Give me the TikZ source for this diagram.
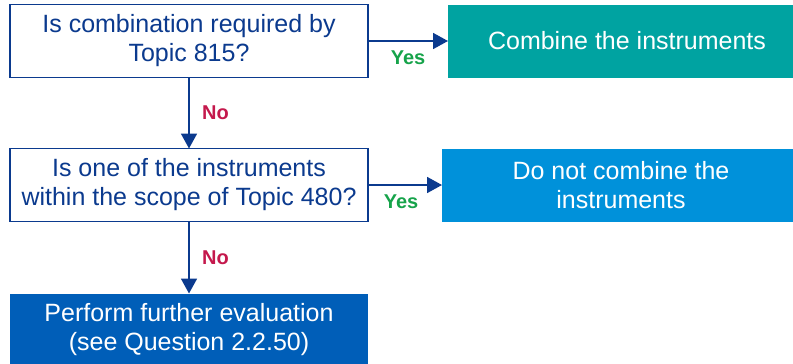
\documentclass[tikz,border=0pt]{standalone}
\usepackage{fontspec}
\setmainfont{Liberation Sans}
\usetikzlibrary{arrows.meta,positioning}
\definecolor{navyblue}{HTML}{0B3A8E}
\definecolor{tealbox}{HTML}{00A3A1}
\definecolor{lightbox}{HTML}{0091DA}
\definecolor{midbox}{HTML}{005EB8}
\definecolor{yesgreen}{HTML}{16A34A}
\definecolor{nored}{HTML}{C4184C}

\begin{document}
\begin{tikzpicture}[
    x=1pt, y=1pt,
    question/.style={rectangle, draw=navyblue, line width=1.8pt, fill=white, minimum width=358pt, minimum height=73pt, inner sep=0pt, outer sep=0pt, align=center, text=navyblue, font=\fontsize{25}{29}\selectfont},
    result/.style={rectangle, minimum width=358pt, minimum height=73pt, inner sep=0pt, outer sep=0pt, align=center, text=white, font=\fontsize{25}{29}\selectfont},
    yeslabel/.style={font=\fontsize{20}{23}\selectfont\bfseries, text=yesgreen},
    nolabel/.style={font=\fontsize{20}{23}\selectfont\bfseries, text=nored},
    arrow/.style={-{Triangle[length=15pt,width=16pt]}, line width=1.8pt, draw=navyblue}
]
\useasboundingbox (0,0) rectangle (793,-364);
\node[question] (q1) at (189,-41) {Is combination required by\\Topic 815?};
\node[result, fill=tealbox, right=80pt of q1] (combine) {Combine the instruments};
\node[question, below=71pt of q1] (q2) {Is one of the instruments\\within the scope of Topic 480?};
\node[result, fill=lightbox, right=74pt of q2] (nocombine) {Do not combine the\\instruments};
\node[result, fill=midbox, below=72pt of q2] (further) {Perform further evaluation\\(see Question 2.2.50)};

\draw[arrow] (q1) -- node[yeslabel, below=6pt] {Yes} (combine);
\draw[arrow] (q1) -- node[nolabel, right=9pt] {No} (q2);
\draw[arrow] (q2) -- node[yeslabel, below=6pt, xshift=-4pt] {Yes} (nocombine);
\draw[arrow] (q2) -- node[nolabel, right=9pt] {No} (further);
\end{tikzpicture}
\end{document}
